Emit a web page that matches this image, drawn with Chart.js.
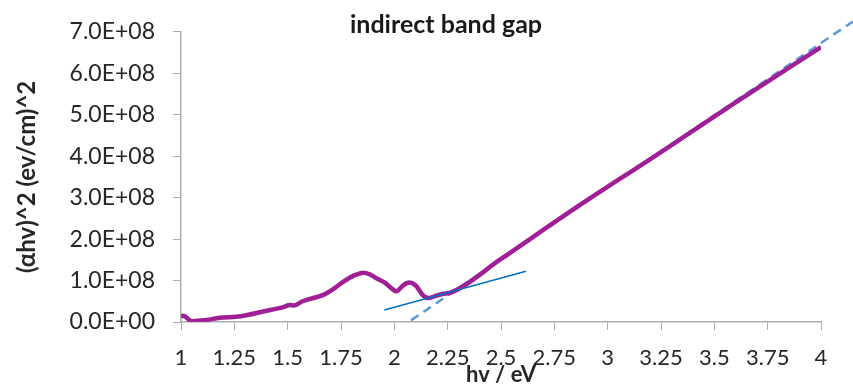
<!DOCTYPE html>
<html lang="en">
<head>
    <meta charset="UTF-8">
    <title>indirect band gap</title>
    <script src="https://cdn.jsdelivr.net/npm/chart.js"></script>
    <style>
        body { margin: 0; background: #fff; }
        #wrap { width: 853px; height: 390px; }
    </style>
</head>
<body>
    <div id="wrap"><canvas id="gapChart" width="853" height="390"></canvas></div>

    <script>
        // values (y in units of 1e8)
        const hv = [1.0, 1.01, 1.05, 1.12, 1.18, 1.28, 1.39, 1.48, 1.51, 1.53, 1.57, 1.67, 1.71, 1.76, 1.81, 1.855,
                    1.885, 1.925, 1.955, 1.99, 2.01, 2.04, 2.07, 2.1, 2.135, 2.16, 2.2, 2.23, 2.26, 2.5, 2.82, 3.25, 3.6, 4.0];
        const ahv2 = [0.13, 0.15, 0.02, 0.05, 0.10, 0.14, 0.26, 0.36, 0.41, 0.40, 0.50, 0.66, 0.78, 0.97, 1.12, 1.19,
                      1.15, 1.03, 0.95, 0.80, 0.74, 0.88, 0.95, 0.88, 0.64, 0.58, 0.64, 0.68, 0.70, 1.52, 2.65, 4.10, 5.30, 6.63];

        // fitted line (dashed) and the thin baseline tangent
        const fitX = [2.078, 4.15];
        const fitY = [0.04, 7.25];
        const baseX = [1.953, 2.617];
        const baseY = [0.29, 1.225];

        const yTickLabels = ['0.0E+00', '1.0E+08', '2.0E+08', '3.0E+08', '4.0E+08', '5.0E+08', '6.0E+08', '7.0E+08'];
        const xTickLabels = ['1', '1.25', '1.5', '1.75', '2', '2.25', '2.5', '2.75', '3', '3.25', '3.5', '3.75', '4'];

        const E8 = 1e8;
        const pts = (xs, ys) => xs.map((x, i) => ({ x: x, y: ys[i] * E8 }));

        const FONT = 'Lato, "DejaVu Sans", sans-serif';
        const AXIS = '#ADADAD';
        const TEXT = '#262626';

        const titlePlugin = {
            id: 'topTitle',
            afterDraw(chart) {
                const ctx = chart.ctx;
                ctx.save();
                ctx.font = 'bold 25px ' + FONT;
                ctx.fillStyle = '#1a1a1a';
                ctx.textAlign = 'center';
                ctx.textBaseline = 'alphabetic';
                ctx.fillText('indirect band gap', 446, 33);
                ctx.restore();
            }
        };

        new Chart(document.getElementById('gapChart'), {
            type: 'scatter',
            data: {
                datasets: [
                    {
                        data: pts(baseX, baseY),
                        showLine: true,
                        borderColor: '#0070C0',
                        borderWidth: 1.5,
                        pointRadius: 0
                    },
                    {
                        data: pts(hv, ahv2),
                        showLine: true,
                        borderColor: '#A11F96',
                        borderWidth: 4.5,
                        pointRadius: 0,
                        cubicInterpolationMode: 'monotone'
                    },
                    {
                        data: pts(fitX, fitY),
                        showLine: true,
                        borderColor: '#5B9BD5',
                        borderWidth: 2.5,
                        borderDash: [9, 6],
                        pointRadius: 0,
                        clip: false
                    }
                ]
            },
            options: {
                responsive: false,
                animation: false,
                layout: { padding: { top: 20, right: 32, left: 0, bottom: 0 } },
                plugins: { legend: { display: false }, tooltip: { enabled: false } },
                scales: {
                    x: {
                        type: 'linear',
                        min: 1,
                        max: 4,
                        afterFit(scale) { scale.height = 68; },
                        ticks: {
                            stepSize: 0.25,
                            padding: 15,
                            maxRotation: 0,
                            autoSkip: false,
                            color: TEXT,
                            font: { family: FONT, size: 22 },
                            callback: (v, i) => xTickLabels[i]
                        },
                        grid: { drawOnChartArea: false, tickLength: 8, color: AXIS },
                        border: { color: AXIS, width: 1.5 },
                        title: {
                            display: true,
                            text: 'hv / eV',
                            color: TEXT,
                            font: { family: FONT, size: 22, weight: 'bold' },
                            padding: { top: 0, bottom: 2 }
                        }
                    },
                    y: {
                        min: 0,
                        max: 7 * E8,
                        afterFit(scale) { scale.width = 181; },
                        ticks: {
                            stepSize: E8,
                            padding: 18,
                            color: TEXT,
                            font: { family: FONT, size: 23 },
                            callback: (v, i) => yTickLabels[i]
                        },
                        grid: { drawOnChartArea: false, tickLength: 8, color: AXIS },
                        border: { color: AXIS, width: 1.5 },
                        title: {
                            display: true,
                            text: '(αhv)^2 (ev/cm)^2',
                            color: TEXT,
                            font: { family: FONT, size: 24, weight: 'bold' },
                            padding: { top: 13, bottom: 0 }
                        }
                    }
                }
            },
            plugins: [titlePlugin]
        });
    </script>
</body>
</html>
